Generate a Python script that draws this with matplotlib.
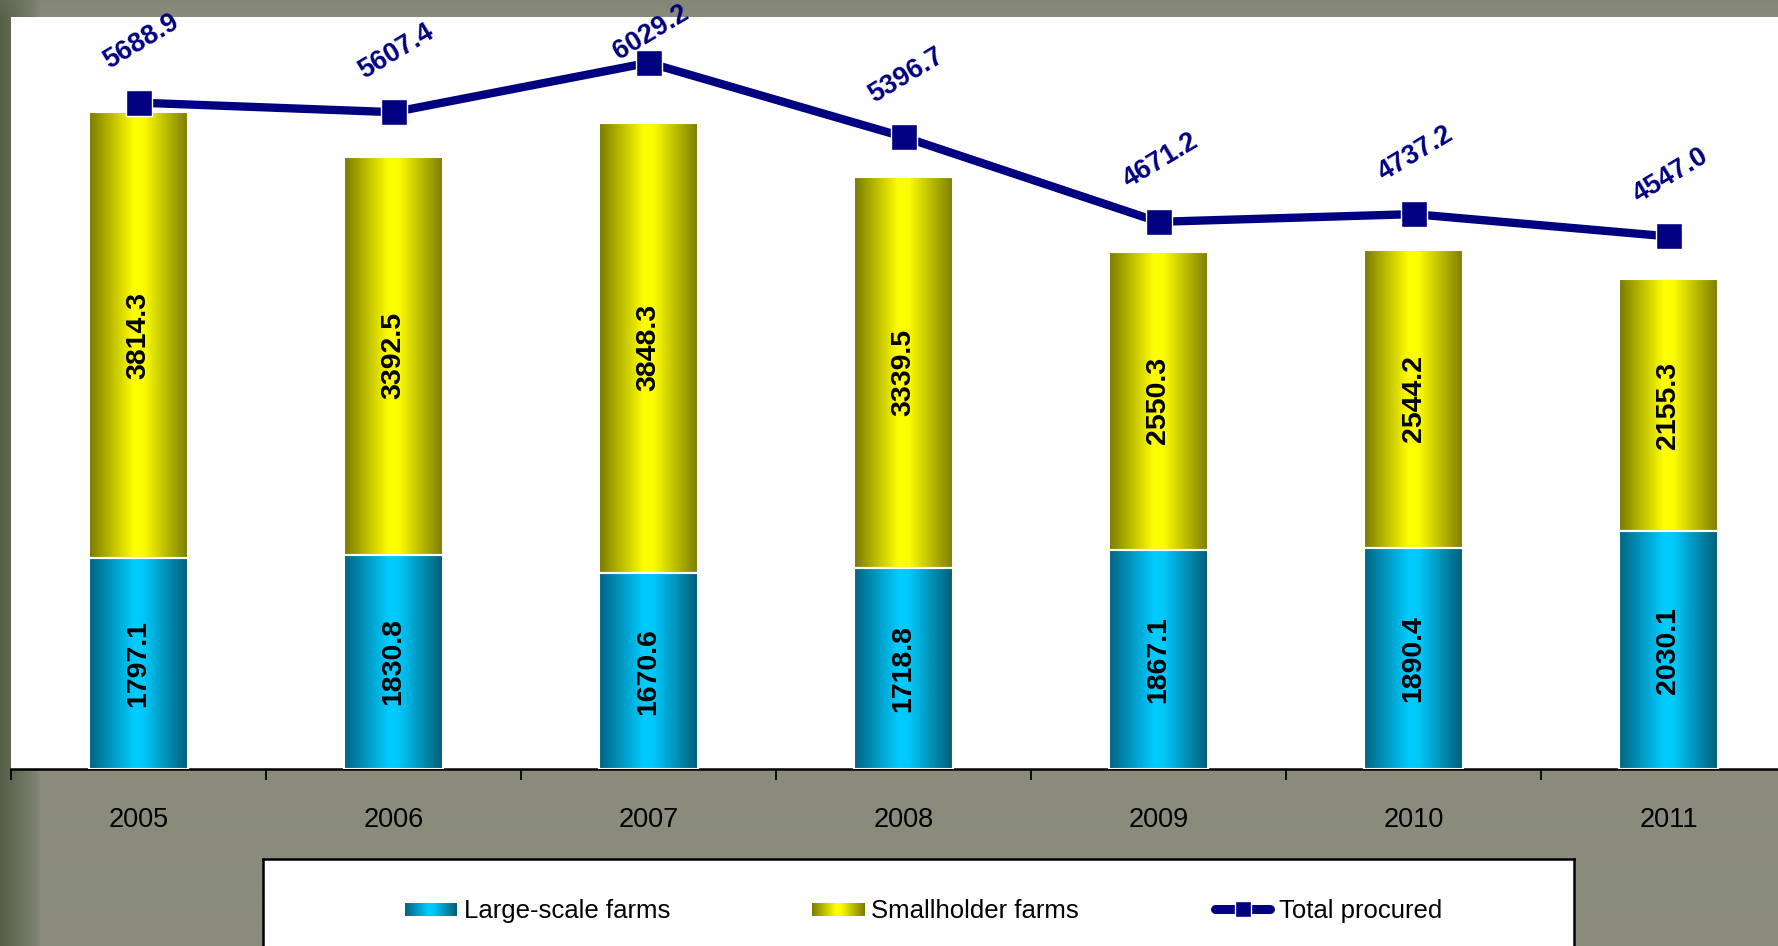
import numpy as np
import matplotlib.pyplot as plt
from matplotlib.colors import LinearSegmentedColormap, to_rgb

plt.rcParams['font.family'] = ['Liberation Sans', 'DejaVu Sans']

# data
years = ['2005', '2006', '2007', '2008', '2009', '2010', '2011']
large_scale = [1797.1, 1830.8, 1670.6, 1718.8, 1867.1, 1890.4, 2030.1]
smallholder = [3814.3, 3392.5, 3848.3, 3339.5, 2550.3, 2544.2, 2155.3]
total = [5688.9, 5607.4, 6029.2, 5396.7, 4671.2, 4737.2, 4547.0]

W, H = 1778, 946
navy = '#000080'
cmap_cyan = LinearSegmentedColormap.from_list(
    'cyan', [(0, '#006482'), (0.45, '#00ccff'), (0.55, '#00c8fa'), (1, '#005a74')])
cmap_yel = LinearSegmentedColormap.from_list(
    'yel', [(0, '#7a7a00'), (0.45, '#ffff00'), (0.55, '#fcfc00'), (1, '#7a7a00')])
grad = np.linspace(0, 1, 256)[np.newaxis, :]

fig = plt.figure(figsize=(W / 100, H / 100), dpi=100)
fig.patch.set_facecolor('#898a7b')

# stone-ish background, darker on the left edge
bg = fig.add_axes([0, 0, 1, 1], zorder=-5)
base = np.array(to_rgb('#8a8b7c'))
dark = np.array(to_rgb('#566049'))
w = np.clip(1 - np.arange(W) / 40.0, 0, 1)[:, None] ** 0.7
row = base * (1 - w) + dark * w
top_w = np.clip(1 - np.arange(H) / 20.0, 0, 1)[:, None, None] * 0.3
img = np.repeat(row[None, :, :], H, axis=0)
img = img * (1 - top_w) + np.array(to_rgb('#737a66')) * top_w
bg.imshow(img, aspect='auto', extent=[0, W, H, 0])
bg.axis('off')

# main chart
ax = fig.add_axes([11 / W, (H - 769) / H, 1 - 11 / W, (769 - 17) / H])
ax.set_facecolor('white')
x = np.arange(len(years))
bw = 0.39

b1 = ax.bar(x, large_scale, width=bw, color='none', edgecolor='white', linewidth=1.5, zorder=3)
b2 = ax.bar(x, smallholder, width=bw, bottom=large_scale, color='none',
            edgecolor='white', linewidth=1.5, zorder=3)
for bars, cm in ((b1, cmap_cyan), (b2, cmap_yel)):
    for r in bars:
        x0, y0 = r.get_xy()
        ax.imshow(grad, cmap=cm, aspect='auto', zorder=2,
                  extent=[x0, x0 + r.get_width(), y0, y0 + r.get_height()])

ax.plot(x, total, color=navy, lw=6, marker='s', ms=19, mec='white', mew=1, zorder=5)

for xi, ls, sh in zip(x, large_scale, smallholder):
    ax.text(xi, ls / 2, f'{ls:.1f}', rotation=90, ha='center', va='center',
            fontsize=20.5, fontweight='bold', color='black', zorder=6)
    ax.text(xi, ls + sh / 2, f'{sh:.1f}', rotation=90, ha='center', va='center',
            fontsize=20.5, fontweight='bold', color='black', zorder=6)

for xi, t in zip(x, total):
    ax.text(xi + 0.01, min(t + 520, 6290), f'{t:.1f}', rotation=31, ha='center', va='center',
            fontsize=19.5, fontweight='bold', color=navy, zorder=6)

for s in ('top', 'left', 'right'):
    ax.spines[s].set_visible(False)
ax.spines['bottom'].set_color('black')
ax.spines['bottom'].set_linewidth(1.8)
ax.set_yticks([])
ax.set_xticks(x)
ax.set_xticklabels(years, fontsize=19.5)
ax.tick_params(axis='x', which='major', length=0, pad=27)
ax.set_xticks(np.arange(-0.5, 7, 1), minor=True)
ax.tick_params(axis='x', which='minor', length=8, width=1.3, direction='out')
ax.set_xlim(-0.5, -0.5 + (W - 11) / 255)
ax.set_ylim(0, 6420)

# legend box
lg = fig.add_axes([263 / W, -0.03, (1574 - 263) / W, 0.03 + (946 - 859) / H])
lg.set_facecolor('white')
lg.imshow(grad, cmap=cmap_cyan, aspect='auto', extent=[405, 457, 916, 903])
lg.imshow(grad, cmap=cmap_yel, aspect='auto', extent=[812, 865, 916, 903])
lg.plot([1215, 1270], [909, 909], color=navy, lw=6.5, solid_capstyle='round')
lg.plot([1242.5], [909], color=navy, marker='s', ms=11, mec='white', mew=1)
lg.text(464, 911, 'Large-scale farms', va='center', fontsize=18.5)
lg.text(871, 911, 'Smallholder farms', va='center', fontsize=18.5)
lg.text(1279, 911, 'Total procured', va='center', fontsize=18.5)
lg.set_xlim(263, 1574)
lg.set_ylim(946 + 0.03 * H, 859)
lg.set_xticks([])
lg.set_yticks([])
for s in lg.spines.values():
    s.set_color('black')
    s.set_linewidth(1.8)

plt.savefig('out.png', dpi=100)
